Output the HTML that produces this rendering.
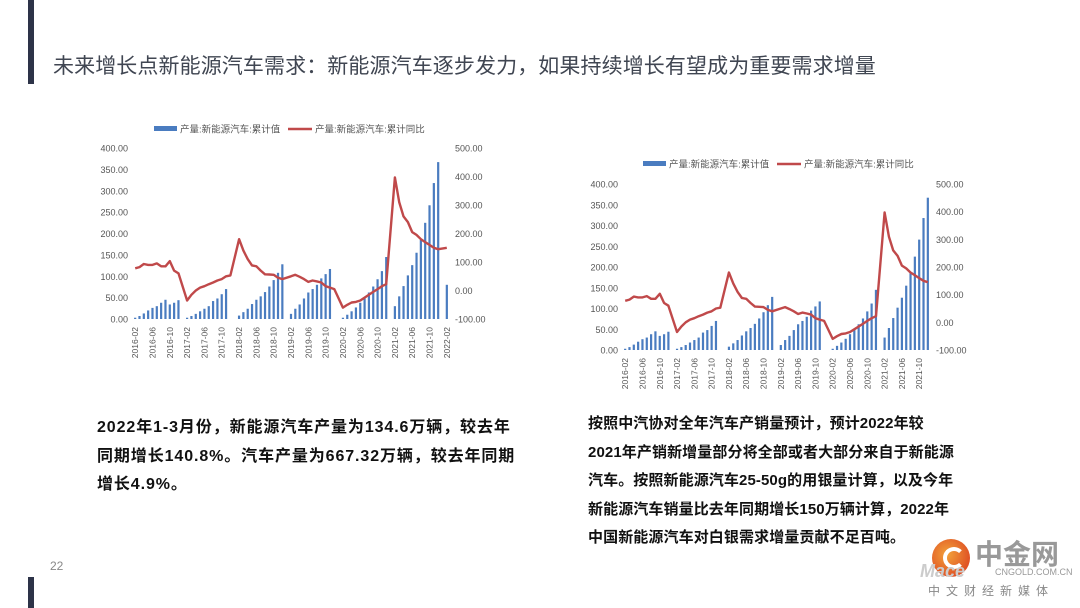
<!DOCTYPE html>
<html><head><meta charset="utf-8"><style>
body{margin:0;width:1080px;height:608px;background:#fff;position:relative;overflow:hidden;font-family:"Liberation Sans","Noto Sans CJK SC",sans-serif}
.abs{position:absolute}
.title{left:53px;top:50px;font-size:21px;color:#404652;white-space:nowrap;letter-spacing:0.1px}
.para{font-family:"Liberation Sans","Noto Sans CJK SC",sans-serif;font-weight:bold;font-size:16px;color:#111;line-height:28.5px;white-space:nowrap}
</style></head><body>
<div class="abs" style="left:28px;top:0;width:6px;height:84px;background:#2d3348"></div>
<div class="abs" style="left:28px;top:577px;width:6px;height:31px;background:#2d3348"></div>
<div class="abs title">未来增长点新能源汽车需求：新能源汽车逐步发力，如果持续增长有望成为重要需求增量</div>
<svg id="c1" class="abs" style="left:0;top:0" width="540" height="400"></svg>
<svg id="c2" class="abs" style="left:540px;top:0" width="540" height="400"></svg>
<div class="abs para" style="left:97px;top:414px;letter-spacing:0.9px">2022年1-3月份，新能源汽车产量为134.6万辆，较去年<br>同期增长140.8%。汽车产量为667.32万辆，较去年同期<br>增长4.9%。</div>
<div class="abs para" style="left:588px;top:410px;font-size:15px;letter-spacing:0.1px">按照中汽协对全年汽车产销量预计，预计2022年较<br>2021年产销新增量部分将全部或者大部分来自于新能源<br>汽车。按照新能源汽车25-50g的用银量计算，以及今年<br>新能源汽车销量比去年同期增长150万辆计算，2022年<br>中国新能源汽车对白银需求增量贡献不足百吨。</div>
<div class="abs" style="left:50px;top:559px;font-size:12px;color:#888">22</div>
<div class="abs" style="left:920px;top:535px;width:160px;height:73px">
 <div class="abs" style="left:12px;top:4px;width:38px;height:38px;border-radius:50%;background:radial-gradient(circle at 40% 40%,#f2a23a,#d8321c)"></div>
 <div class="abs" style="left:23px;top:12px;width:14px;height:14px;border-radius:50%;border:4px solid #fff;border-right-color:transparent"></div>
 <div class="abs" style="left:55px;top:2px;font-size:28px;font-weight:bold;color:#999;font-family:'Noto Sans CJK SC',sans-serif;line-height:32px">中金网</div>
 <div class="abs" style="left:0;top:26px;font-size:18px;font-weight:bold;font-style:italic;color:#ccc">Mace</div>
 <div class="abs" style="left:75px;top:32px;font-size:9px;color:#999">CNGOLD.COM.CN</div>
 <div class="abs" style="left:8px;top:47px;font-size:12px;color:#888;letter-spacing:6px;font-family:'Noto Sans CJK SC',sans-serif">中文财经新媒体</div>
</div>
<script>
// slot i = month offset from 2016-02; null = January (no data)
const barValues=[3,7,13,20,26,30,38,45,34,38,44,null,
3,7,12,18,24,30,42,48,58,70,null,null,
8,16,24,35,45,53,63,76,91,108,128,null,
12,24,34,48,62,70,80,95,105,117,null,null,
3,10,18,27,38,48,62,76,93,112,145,null,
30,53,77,102,126,155,185,225,266,318,367,null,80];
const yoyValues=[78,82,93,90,90,95,85,85,103,70,60,null,
-35,-15,0,10,15,22,28,35,40,50,53,null,
180,140,110,88,85,70,57,56,55,45,40,null,
50,55,48,40,30,35,32,28,15,10,5,null,
-60,-50,-42,-40,-35,-25,-15,-5,5,15,22,null,
397,310,260,240,205,195,180,170,160,150,145,null,150];
const xTickLabels=["2016-02","2016-06","2016-10","2017-02","2017-06","2017-10","2018-02","2018-06","2018-10","2019-02","2019-06","2019-10","2020-02","2020-06","2020-10","2021-02","2021-06","2021-10","2022-02"];
const leftTicks=[0,50,100,150,200,250,300,350,400];
const rightTicks=[-100,0,100,200,300,400,500];
const NS="http://www.w3.org/2000/svg";
function mk(svg,tag,attrs,txt){const e=document.createElementNS(NS,tag);for(const k in attrs)e.setAttribute(k,attrs[k]);if(txt!=null)e.textContent=txt;svg.appendChild(e);return e;}
function draw(id,o){
 const svg=document.getElementById(id);
 const n=o.n, x0=o.x0,x1=o.x1,yt=o.yt,yb=o.yb;
 const step=(x1-x0)/n;
 const xs=i=>x0+step*(i+0.5);
 const yL=v=>yb-(v/400)*(yb-yt);
 const yR=v=>yb-((v+100)/600)*(yb-yt);
 leftTicks.forEach(t=>{const e=mk(svg,'text',{x:x0-5,y:yL(t)+3.5,'text-anchor':'end','font-size':9,fill:'#555'},t.toFixed(2));
 
 });
 rightTicks.forEach(t=>{const e=mk(svg,'text',{x:o.rx,y:yR(t)+3.5,'text-anchor':'start','font-size':9,fill:'#555'},t.toFixed(2));
 
 });
 for(let i=0;i<n;i++){const v=barValues[i];if(v==null)continue;
  const r=mk(svg,'rect',{x:xs(i)-1.1,y:yL(v),width:2.2,height:yb-yL(v),fill:'#4a7cc0'});
  
  }
 let d='';let first=true;
 for(let i=0;i<n;i++){const v=yoyValues[i];if(v==null)continue;d+=(first?'M':'L')+xs(i).toFixed(1)+','+yR(v).toFixed(1);first=false;}
 const p=mk(svg,'path',{d:d,fill:'none',stroke:'#c0494a','stroke-width':2.4,'stroke-linejoin':'round'});
 
 
 xTickLabels.forEach((lab,k)=>{const i=k*4;if(i>=n)return;const x=xs(i);
  const e=mk(svg,'text',{x:x,y:yb+5,'text-anchor':'end','font-size':8.5,fill:'#555',transform:`rotate(-90 ${x+3} ${yb+5})`},lab);
  
  });
 const ly=o.ly;
 const s1=mk(svg,'rect',{x:o.lx,y:ly-3,width:23,height:5,fill:'#4a7cc0'});
 
 
 const t1=mk(svg,'text',{x:o.lx+26,y:ly+3.5,'font-size':9.5,fill:'#555'},'产量:新能源汽车:累计值');
 
 
 const s2=mk(svg,'line',{x1:o.lx+134,y1:ly,x2:o.lx+158,y2:ly,stroke:'#c0494a','stroke-width':2.6});
 
 
 const t2=mk(svg,'text',{x:o.lx+161,y:ly+3.5,'font-size':9.5,fill:'#555'},'产量:新能源汽车:累计同比');
 
 
}
draw('c1',{n:73,x0:133,x1:449,yt:148,yb:319,rx:455,lx:154,ly:129});
draw('c2',{n:71,x0:83,x1:390,yt:184,yb:350,rx:396,lx:103,ly:164});
</script>
</body></html>
